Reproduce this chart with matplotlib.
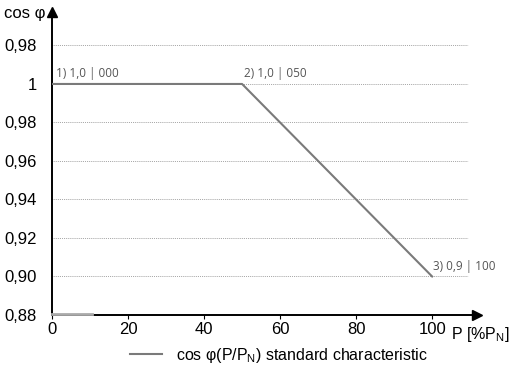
import matplotlib.pyplot as plt

# characteristic points (P in %PN, cos phi)
P_POINTS = [0, 50, 100]
COS_POINTS = [1.00, 1.00, 0.90]
POINT_LABELS = ["1) 1,0 | 000", "2) 1,0 | 050", "3) 0,9 | 100"]

X_TICKS = [0, 20, 40, 60, 80, 100]
# y positions are linear; above 1 the scale reads back down (capacitive side)
Y_TICKS = [0.88, 0.90, 0.92, 0.94, 0.96, 0.98, 1.00, 1.02]
Y_TICK_LABELS = ["0,88", "0,90", "0,92", "0,94", "0,96", "0,98", "1", "0,98"]

plt.rcParams["font.family"] = ["Liberation Sans", "DejaVu Sans"]
plt.rcParams["mathtext.fontset"] = "custom"
plt.rcParams["mathtext.rm"] = "Liberation Sans"

fig = plt.figure(figsize=(5.12, 3.74), dpi=100)
ax = fig.add_axes([0.1016, 0.1578, 0.83, 0.8102])
ax.set_xlim(0, 111.8)
ax.set_ylim(0.88, 1.0374)

for s in ["top", "right"]:
    ax.spines[s].set_visible(False)
for s in ["left", "bottom"]:
    ax.spines[s].set_linewidth(1.4)
    ax.spines[s].set_color("black")

# arrow heads
ax.plot(1, 0.88, ">", color="black", ms=7, transform=ax.get_yaxis_transform(), clip_on=False)
ax.plot(0, 1, "^", color="black", ms=7, transform=ax.get_xaxis_transform(), clip_on=False)

# dotted grid lines
for y in Y_TICKS[1:]:
    ax.plot([0, 109.5], [y, y], ls=(0, (1, 1.3)), color="#888888", lw=0.6, zorder=1)

# light gray stub on the base line near the origin
ax.plot([0, 10.5], [0.8803, 0.8803], color="#aaaaaa", lw=2.0, zorder=4, clip_on=False)

line, = ax.plot(P_POINTS, COS_POINTS, color="#7a7a7a", lw=1.5, zorder=3,
                label=r"cos φ(P/P$_\mathrm{N}$) standard characteristic")

offsets = [(1, 0.002), (0.5, 0.002), (0.2, 0.002)]
for x, y, lab, (dx, dy) in zip(P_POINTS, COS_POINTS, POINT_LABELS, offsets):
    ax.text(x + dx, y + dy, lab, fontsize=8.5, color="#555555",
            family=["Open Sans", "DejaVu Sans"],
            ha="left", va="bottom")

ax.set_xticks(X_TICKS)
ax.set_yticks(Y_TICKS)
ax.set_yticklabels(Y_TICK_LABELS)
ax.tick_params(axis="x", length=3, width=0.8, labelsize=12, pad=2)
ax.tick_params(axis="y", length=0, labelsize=12, pad=11)

fig.text(0.008, 0.965, "cos φ", fontsize=12, ha="left", va="center")
fig.text(0.996, 0.105, "P [%P$_\\mathrm{N}$]", fontsize=11.5, ha="right", va="center")

fig.legend(handles=[line], loc="center", bbox_to_anchor=(0.545, 0.05),
           frameon=False, fontsize=11.5, handlelength=2.0, handletextpad=0.9)

fig.savefig("out.png", dpi=100)
